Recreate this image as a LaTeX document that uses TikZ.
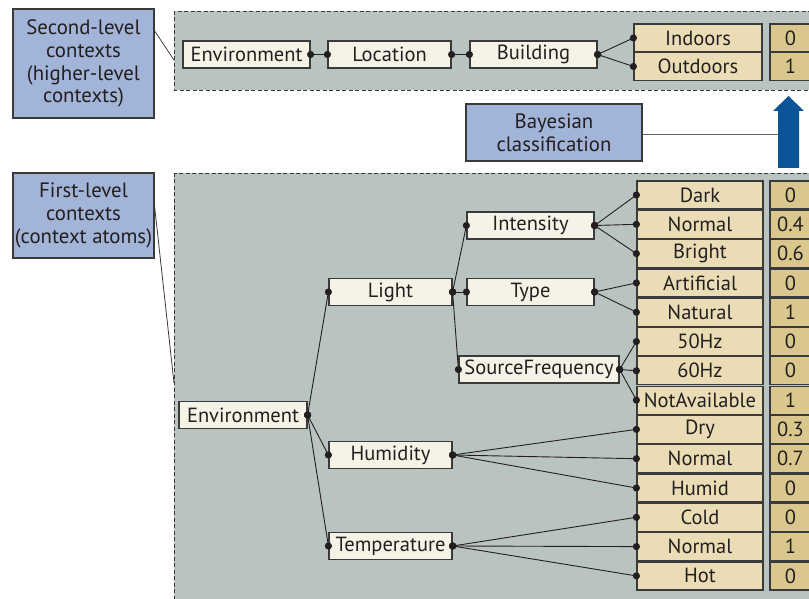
\documentclass[tikz,border=0pt]{standalone}
\usepackage{fontspec}
\setmainfont{PT Sans}
\definecolor{panel}{HTML}{B9C3C0}
\definecolor{labblue}{HTML}{A2B4D7}
\definecolor{nodefill}{HTML}{F5F2E6}
\definecolor{leaffill}{HTML}{EADDB6}
\definecolor{valfill}{HTML}{D9C78D}
\definecolor{arrowblue}{HTML}{0C5498}
\definecolor{bordc}{HTML}{3A3A3A}
\definecolor{txtc}{HTML}{231F20}
\newcommand{\linkab}[2]{\draw[conn] (#1.east) -- (#2.west);\fill[txtc] (#1.east) circle[radius=3.6];\fill[txtc] (#2.west) circle[radius=3.6];}
\begin{document}
\begin{tikzpicture}[x=1pt,y=-1pt,
  basebox/.style={draw=bordc, line width=1.2pt, inner sep=0pt, minimum height=27pt, text=txtc, font=\fontsize{20.5}{22}\selectfont},
  inner/.style={basebox, fill=nodefill},
  leaf/.style={basebox, fill=leaffill, minimum width=126pt, minimum height=28pt},
  val/.style={basebox, fill=valfill, minimum width=41pt, minimum height=28pt},
  label/.style={draw=bordc, line width=1.2pt, fill=labblue, inner sep=0pt, align=center, text=txtc, font=\fontsize{20.8}{22.8}\selectfont},
  panelbox/.style={draw=bordc, line width=0.9pt, dash pattern=on 4pt off 2.5pt, fill=panel},
  conn/.style={draw=txtc, line width=0.9pt},
  thin/.style={draw=bordc, line width=0.8pt}]
\path[use as bounding box, clip] (0,0) rectangle (809,599);
\fill[white] (0,0) rectangle (809,599);
% panels
\draw[panelbox] (174,11) rectangle (830,90);
\draw[panelbox] (174,173) rectangle (830,620);
% label boxes
\node[label, minimum width=141pt, minimum height=109pt] (lab2) at (83.5,63.5) {Second-level\\contexts\\(higher-level\\contexts)};
\node[label, minimum width=141pt, minimum height=85pt] (lab1) at (83.5,215.5) {First-level\\contexts\\(context atoms)};
\node[label, minimum width=176pt, minimum height=57pt] (bayes) at (554,132.5) {Bayesian\\classification};
\coordinate (p2) at (174,60);
\coordinate (p1) at (174,383);
\coordinate (a2) at (154,30);
\coordinate (a1) at (154,201);
\draw[thin] (a2) -- (p2);
\draw[thin] (a1) -- (p1);
% arrow
\fill[arrowblue] (778,168) -- (778,111) -- (773,111) -- (788.5,96) -- (804,111) -- (799,111) -- (799,168) -- cycle;
\coordinate (arrL) at (778,134);
\draw[draw=gray!80!black, line width=0.9pt] (bayes.east |- arrL) -- (arrL);
% top row
\node[inner, minimum width=127pt] (tenv) at (246.5,54.5) {Environment};
\node[inner, minimum width=123pt] (tloc) at (389.5,54.5) {Location};
\node[inner, minimum width=127pt] (tbld) at (533.5,54.5) {Building};
\node[leaf, minimum width=128pt] (tin) at (698,38) {Indoors};
\node[leaf, minimum width=128pt] (tout) at (698,66.5) {Outdoors};
\node[val] (vin) at (790.5,38) {0};
\node[val] (vout) at (790.5,66.5) {1};
\linkab{tenv}{tloc}
\linkab{tloc}{tbld}
\linkab{tbld}{tin}
\linkab{tbld}{tout}
% bottom tree
\node[inner, minimum width=128pt] (env) at (243,415) {Environment};
\node[inner, minimum width=123pt] (light) at (390.5,292) {Light};
\node[inner, minimum width=123pt] (hum) at (390.5,455) {Humidity};
\node[inner, minimum width=123pt] (temp) at (390.5,546) {Temperature};
\node[inner, minimum width=127pt] (inten) at (530.5,225.5) {Intensity};
\node[inner, minimum width=127pt] (type) at (530.5,292) {Type};
\node[inner, minimum width=160pt] (srcf) at (539,369.5) {SourceFrequency};
\foreach \nm/\txt/\v [count=\k from 0] in {dark/Dark/0, normA/Normal/0.4, bright/Bright/0.6, artif/Artificial/0, natur/Natural/1, hzA/50Hz/0, hzB/60Hz/0, nav/NotAvailable/1, dry/Dry/0.3, normB/Normal/0.7, humid/Humid/0, cold/Cold/0, normC/Normal/1, hot/Hot/0}{
  \node[leaf] (\nm) at (700,195+29.3*\k) {\txt};
  \node[val] (v\nm) at (790.5,195+29.3*\k) {\v};
}
\linkab{env}{light}
\linkab{env}{hum}
\linkab{env}{temp}
\linkab{light}{inten}
\linkab{light}{type}
\linkab{light}{srcf}
\linkab{inten}{dark}
\linkab{inten}{normA}
\linkab{inten}{bright}
\linkab{type}{artif}
\linkab{type}{natur}
\linkab{srcf}{hzA}
\linkab{srcf}{hzB}
\linkab{srcf}{nav}
\linkab{hum}{dry}
\linkab{hum}{normB}
\linkab{hum}{humid}
\linkab{temp}{cold}
\linkab{temp}{normC}
\linkab{temp}{hot}
\end{tikzpicture}
\end{document}
